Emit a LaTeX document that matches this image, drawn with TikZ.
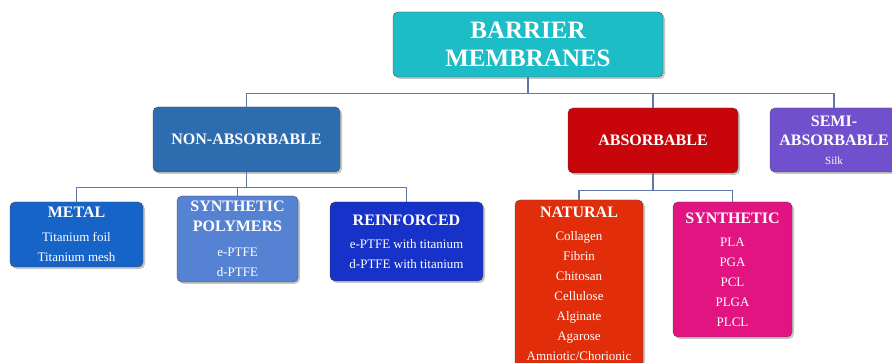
\documentclass[tikz,border=0pt]{standalone}
\usepackage{fontspec}
\setmainfont{Liberation Serif}
\usetikzlibrary{shadows}
\definecolor{rootcyan}{RGB}{28,189,199}
\definecolor{nonabsblue}{RGB}{46,108,176}
\definecolor{absred}{RGB}{200,5,10}
\definecolor{semipurple}{RGB}{112,80,205}
\definecolor{metalblue}{RGB}{22,100,200}
\definecolor{polyblue}{RGB}{85,130,210}
\definecolor{reinfblue}{RGB}{22,50,200}
\definecolor{naturalred}{RGB}{225,45,10}
\definecolor{synthpink}{RGB}{225,20,130}
\definecolor{boxedge}{RGB}{70,70,80}
\definecolor{linegray}{RGB}{95,120,170}
\newcommand{\hd}[1]{{\fontsize{16}{20}\selectfont\bfseries #1}}

\begin{document}
\begin{tikzpicture}[x=1pt, y=1pt,
      box/.style={rectangle, rounded corners=5pt, draw=boxedge, thin, fill=#1,
                  drop shadow={shadow xshift=2pt, shadow yshift=-2pt, opacity=.45},
                  text=white, align=center, inner sep=2pt,
                  font=\fontsize{13}{20}\selectfont},
      conn/.style={draw=linegray, line width=1.3pt}]
    \useasboundingbox (0,0) rectangle (892,363);
    % top level
    \node[box=rootcyan, minimum width=270pt, minimum height=65pt,
          font=\fontsize{25}{28}\selectfont\bfseries] (root) at (528,318.5) {BARRIER\\MEMBRANES};
    \node[box=nonabsblue, minimum width=187pt, minimum height=65pt] (nonabs) at (246.5,223.5) {\hd{NON-ABSORBABLE}};
    \node[box=absred, minimum width=170pt, minimum height=65pt] (abs) at (653,222.5) {\hd{ABSORBABLE}};
    \node[box=semipurple, minimum width=128pt, minimum height=64pt] (semi) at (834,223)
          {\hd{SEMI-}\\[-1pt]\hd{ABSORBABLE}\\[-1pt]{\fontsize{11}{14}\selectfont Silk}};
    % non-absorbable
    \node[box=metalblue, minimum width=133pt, minimum height=65pt] (metal) at (76.5,128.5)
          {\hd{METAL}\\[4pt]Titanium foil\\Titanium mesh};
    \node[box=polyblue, minimum width=121pt, minimum height=86pt] (poly) at (237.5,124)
          {\hd{SYNTHETIC}\\\hd{POLYMERS}\\[5pt]e-PTFE\\d-PTFE};
    \node[box=reinfblue, minimum width=153pt, minimum height=79pt] (reinf) at (406.5,121.5)
          {\hd{REINFORCED}\\[3pt]e-PTFE with titanium\\d-PTFE with titanium};
    % absorbable
    \node[box=naturalred, minimum width=128pt, minimum height=168pt] (natural) at (579,79)
          {\hd{NATURAL}\\[3pt]Collagen\\Fibrin\\Chitosan\\Cellulose\\Alginate\\Agarose\\Amniotic/Chorionic};
    \node[box=synthpink, minimum width=119pt, minimum height=135pt] (synth) at (732.5,93.5)
          {\hd{SYNTHETIC}\\[3pt]PLA\\PGA\\PCL\\PLGA\\PLCL};
    % connectors
    \draw[conn] (root.south) -- ++(0,-16) coordinate (j1);
    \draw[conn] (nonabs.north) |- (j1) -| (semi.north);
    \draw[conn] (abs.north) -- (abs.north |- j1);
    \draw[conn] (nonabs.south) -- ++(0,-15) coordinate (j2);
    \draw[conn] (metal.north) |- (j2) -| (reinf.north);
    \draw[conn] (poly.north) -- (poly.north |- j2);
    \draw[conn] (abs.south) -- ++(0,-17) coordinate (j3);
    \draw[conn] (natural.north) |- (j3) -| (synth.north);
  \end{tikzpicture}
\end{document}
